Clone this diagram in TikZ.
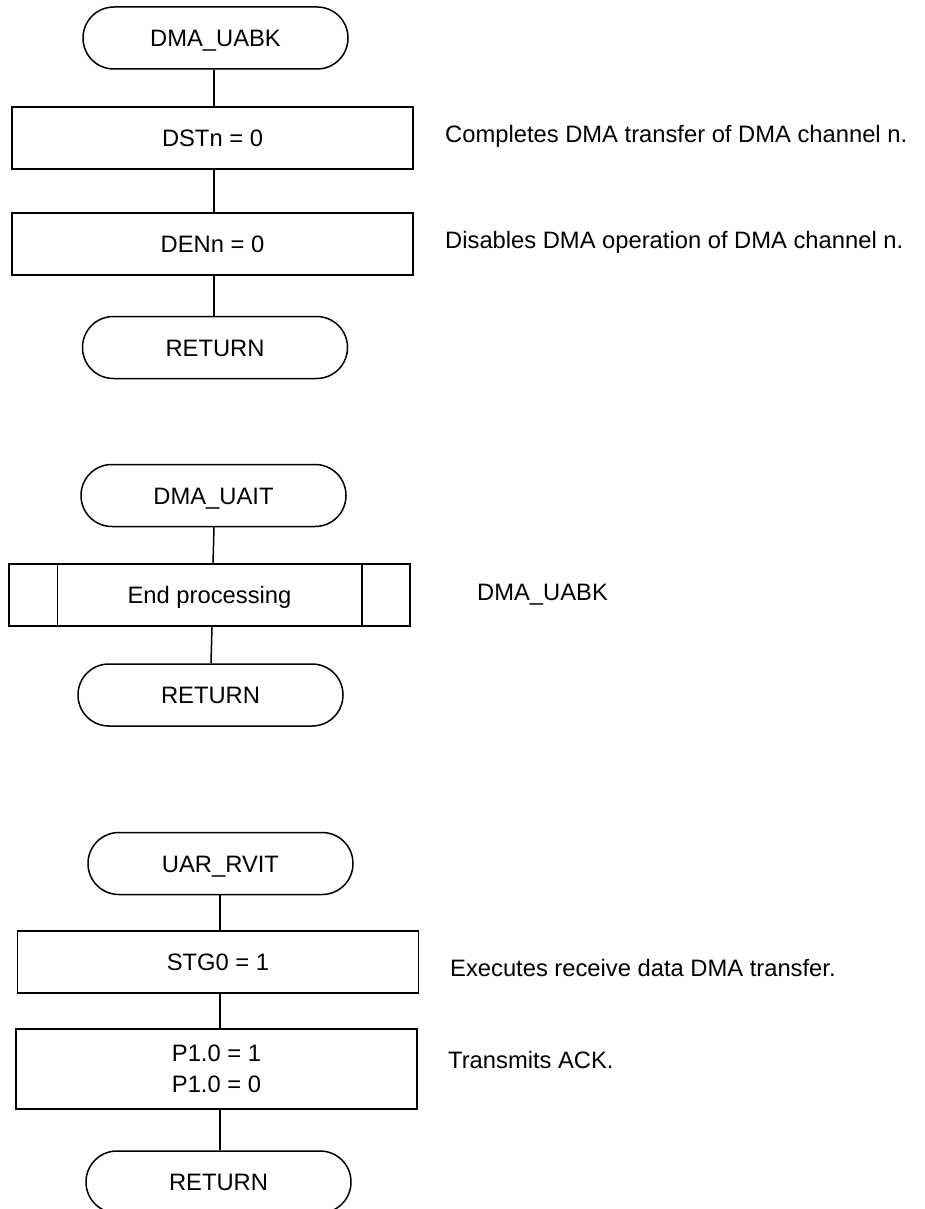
\documentclass[tikz,border=0pt]{standalone}
\usepackage{fontspec}
\setmainfont{Liberation Sans}
\begin{document}
\begin{tikzpicture}[x=1pt,y=-1pt,
  every node/.style={font=\fontsize{23.75}{31}\selectfont, inner sep=0pt},
  line/.style={line width=1.5pt},
  term/.style={draw, line width=1.5pt, rounded corners=30.9pt,
    minimum width=265pt, minimum height=62pt, text height=17pt, text depth=0pt},
  proc/.style={draw, line width=1.5pt, minimum width=401pt, minimum height=62pt,
    text height=17pt, text depth=0pt},
  proctall/.style={draw, line width=1.5pt, minimum width=401pt, minimum height=80pt,
    align=center},
  note/.style={anchor=base west}]
\useasboundingbox (0,0) rectangle (924,1209);

% --- DMA_UABK ---
\node[term] (t1) at (215.5,38) {DMA\_UABK};
\node[proc] (b1) at (212.5,138) {DSTn = 0};
\node[proc] (b2) at (212.5,244) {DENn = 0};
\node[term] (r1) at (215,347.5) {RETURN};
\draw[line] (t1.south -| 214,0) -- (b1.north -| 214,0);
\draw[line] (b1.south -| 214,0) -- (b2.north -| 214,0);
\draw[line] (b2.south -| 214,0) -- (r1.north -| 214,0);
\node[note] (n1) at (445,143) {Completes DMA transfer of DMA channel n.};
\node[note] (n2) at (445,248) {Disables DMA operation of DMA channel n.};

% --- DMA_UAIT ---
\node[term] (t2) at (213.5,495.5) {DMA\_UAIT};
\node[proc] (p2) at (209.5,595) {End processing};
\draw[line] ([xshift=49pt]p2.north west) -- ([xshift=49pt]p2.south west);
\draw[line] ([xshift=-49pt]p2.north east) -- ([xshift=-49pt]p2.south east);
\node[term] (r2) at (210.5,695) {RETURN};
\draw[line] (t2.south -| 214,0) -- (p2.north -| 213,0);
\draw[line] (p2.south -| 212,0) -- (r2.north -| 211,0);
\node[note] (n3) at (477,600) {DMA\_UABK};

% --- UAR_RVIT ---
\node[term] (t3) at (220.5,863.5) {UAR\_RVIT};
\node[proc] (s3) at (218,962) {STG0 = 1};
\node[proctall] (p3) at (216.5,1069) {P1.0 = 1\\P1.0 = 0};
\node[term] (r3) at (218.5,1182) {RETURN};
\draw[line] (t3.south -| 220,0) -- (s3.north -| 220,0);
\draw[line] (s3.south -| 220,0) -- (p3.north -| 220,0);
\draw[line] (p3.south -| 220,0) -- (r3.north -| 220,0);
\node[note] (n4) at (450,976.5) {Executes receive data DMA transfer.};
\node[note] (n5) at (448,1068.5) {Transmits ACK.};
\end{tikzpicture}
\end{document}
